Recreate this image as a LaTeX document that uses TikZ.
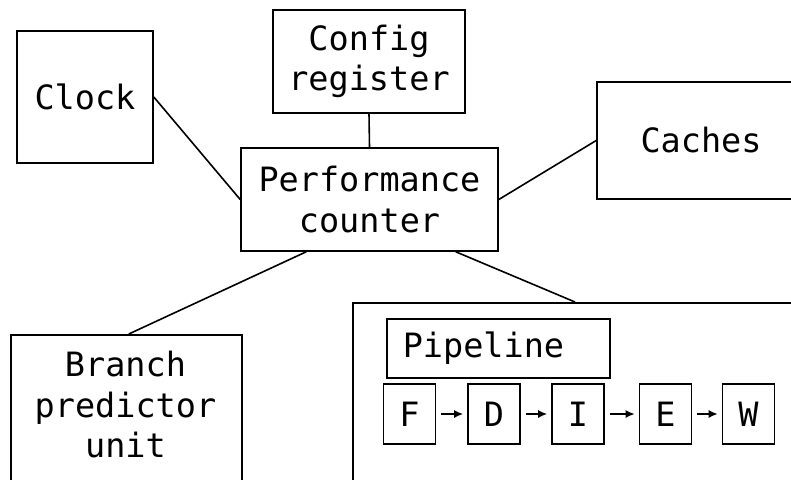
\documentclass[tikz,border=0pt]{standalone}
\usepackage{fontspec}
\setmonofont{DejaVu Sans Mono}
\usetikzlibrary{arrows.meta}
\begin{document}
\begin{tikzpicture}[x=1pt,y=-1pt,
  box/.style={draw=black,line width=1.6pt,inner sep=0pt,font=\ttfamily\fontsize{33.5}{40.5}\selectfont,align=center},
  txt/.style={inner sep=0pt,font=\ttfamily\fontsize{33.5}{40.5}\selectfont,align=center},
  link/.style={draw=black,line width=1.6pt},
  flow/.style={draw=black,line width=1.6pt,-{Latex[length=9pt,width=8pt]},shorten <=5pt,shorten >=4pt}]
\useasboundingbox (0,0) rectangle (791,479);
\clip (0,0) rectangle (791,479);
\fill[white] (0,0) rectangle (791,479);
\node[box,minimum width=136,minimum height=132] (clock) at (85,97) {Clock};
\node[box,minimum width=192,minimum height=103] (config) at (369,61.5) {Config\\register};
\node[box,minimum width=257,minimum height=103] (perf) at (369.5,199.5) {Performance\\counter};
\node[box,minimum width=208,minimum height=117] (caches) at (701,140.5) {Caches};
\node[box,minimum width=231,minimum height=170,anchor=north west] (branch) at (10,334) {};
\node[txt] (brancht) at (125.5,405) {Branch\\predictor\\unit};
\node[box,minimum width=470,minimum height=220,anchor=north west] (big) at (352,302) {};
\node[box,anchor=north west,minimum height=59,text width=191,inner xsep=16pt,align=left] (pipe) at (386,318) {Pipeline};
\node[box,minimum width=52,minimum height=60] (sf) at (409.5,414) {F};
\node[box,minimum width=52,minimum height=60] (sd) at (494,414) {D};
\node[box,minimum width=52,minimum height=60] (si) at (578,414) {I};
\node[box,minimum width=52,minimum height=60] (se) at (665.5,414) {E};
\node[box,minimum width=52,minimum height=60] (sw) at (748.5,414) {W};
\draw[link] (clock.east) -- (perf.west);
\draw[link] (config.south) -- (perf.north);
\draw[link] (caches.west) -- (perf.east);
\draw[link] ([xshift=66pt]perf.south west) -- ([xshift=2.5pt]branch.north);
\draw[link] ([xshift=-43pt]perf.south east) -- ([xshift=223pt]big.north west);
\draw[flow] (sf) -- (sd);
\draw[flow] (sd) -- (si);
\draw[flow] (si) -- (se);
\draw[flow] (se) -- (sw);
\end{tikzpicture}
\end{document}
